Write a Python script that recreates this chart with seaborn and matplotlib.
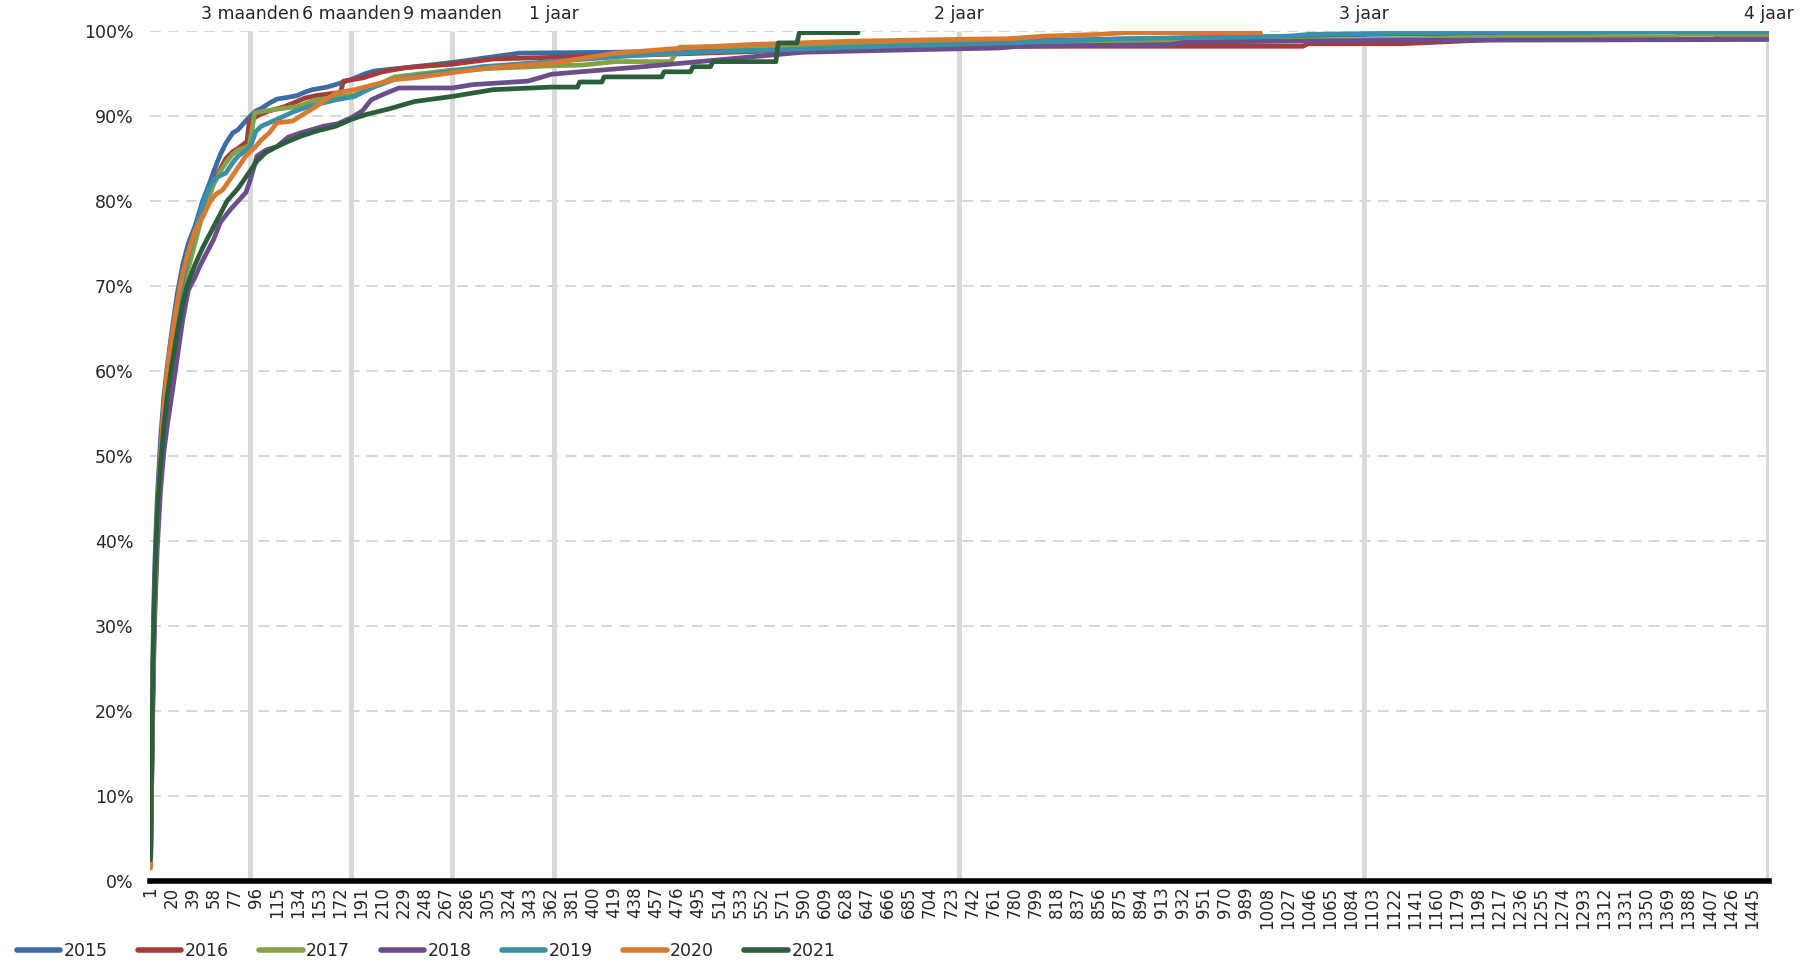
import pandas as pd
import matplotlib
matplotlib.use("Agg")
import matplotlib.pyplot as plt
import matplotlib.transforms as mtransforms
import seaborn as sns

# cumulative share per day (day number, percentage)
days_2015 = [1, 2, 3, 4, 5, 7, 10, 13, 16, 20, 25, 30, 35, 41, 48, 54, 58, 64, 69, 75, 80, 86, 91, 96, 101,
             108, 115, 125, 133, 140, 147, 160, 168, 182, 195, 203, 232, 260, 273, 290, 306, 334, 420, 520,
             600, 730, 800, 900, 1000, 1100, 1250, 1400, 1460]
pct_2015 = [3, 16, 26, 33, 38, 45, 52, 57, 60.5, 64.5, 69, 72.5, 75, 77, 80, 82, 83.5, 85.5, 86.8, 88, 88.4,
            89.3, 90, 90.6, 90.9, 91.5, 92, 92.2, 92.4, 92.8, 93.1, 93.4, 93.7, 94.3, 95, 95.3, 95.7, 96.1,
            96.3, 96.6, 96.9, 97.4, 97.5, 97.8, 98, 98.6, 98.9, 99.1, 99.3, 99.6, 99.8, 99.9, 99.9]

days_2016 = [1, 2, 3, 4, 5, 7, 10, 13, 16, 20, 25, 30, 35, 41, 48, 54, 58, 64, 69, 75, 80, 88, 90, 100, 108,
             122, 140, 150, 168, 172, 175, 193, 210, 232, 273, 310, 362, 451, 600, 700, 1040, 1045, 1130, 1214,
             1410, 1418, 1460]
pct_2016 = [2, 12, 21, 28, 33, 41, 48, 54, 58, 62, 66.5, 70, 73, 75.5, 79, 81, 82.3, 83.8, 85, 85.8, 86.2,
            87, 89.4, 90.2, 90.6, 91.1, 92.1, 92.4, 92.7, 92.7, 94.1, 94.5, 95.2, 95.7, 96.1, 96.7, 96.9,
            97.2, 97.8, 98.2, 98.2, 98.5, 98.5, 99.0, 99.0, 99.5, 99.5]

days_2017 = [1, 2, 3, 4, 5, 7, 10, 13, 16, 20, 25, 30, 35, 41, 48, 54, 58, 64, 69, 75, 80, 90, 95, 115, 133,
             150, 168, 185, 200, 221, 273, 327, 362, 391, 420, 470, 478, 600, 730, 880, 1000, 1100, 1226,
             1375, 1380, 1460]
pct_2017 = [2, 13, 23, 30, 35, 42, 49, 54.5, 58, 61.5, 65.5, 69, 72, 75, 78.5, 80.5, 82, 83.5, 84.5, 85.5,
            86, 86.5, 90.4, 90.8, 91.1, 91.9, 92.2, 92.5, 93.3, 94.6, 95.4, 95.7, 95.9, 96.0, 96.4, 96.4,
            98.1, 98.3, 98.6, 98.8, 98.9, 99.0, 99.3, 99.3, 99.6, 99.6]

days_2018 = [1, 2, 3, 4, 5, 7, 10, 13, 16, 20, 25, 30, 35, 41, 46, 52, 58, 64, 73, 80, 87, 91, 97, 105, 115,
             125, 136, 157, 170, 182, 192, 200, 210, 225, 273, 292, 341, 352, 362, 379, 445, 496, 538, 589,
             691, 766, 784, 920, 935, 1133, 1460]
pct_2018 = [2, 11, 20, 27, 32, 39, 46, 50.5, 53.5, 57, 61.5, 66, 69.5, 71, 72.5, 74, 75.5, 77.5, 79, 80,
            81, 82.5, 85.3, 86, 86.4, 87.5, 88, 88.8, 89.1, 89.8, 90.6, 91.9, 92.5, 93.3, 93.3, 93.7, 94.1,
            94.5, 94.9, 95.1, 95.8, 96.4, 96.9, 97.5, 97.8, 98.0, 98.2, 98.4, 98.7, 98.9, 99.0]

days_2019 = [1, 2, 3, 4, 5, 7, 10, 13, 16, 20, 25, 30, 35, 41, 48, 54, 58, 64, 69, 75, 80, 88, 91, 96, 101,
             115, 130, 143, 168, 185, 200, 221, 273, 300, 362, 436, 496, 571, 631, 721, 775, 880, 1030,
             1045, 1100, 1226, 1460]
pct_2019 = [2, 13, 23, 30, 35, 43, 50, 55, 58.5, 62.5, 67, 70.5, 73.5, 76.5, 79.5, 81.5, 82.5, 83, 83.3,
            84.5, 85.3, 86, 86.4, 88.2, 88.8, 89.6, 90.5, 91.1, 91.9, 92.3, 93.3, 94.3, 95.3, 95.8, 96.4,
            97.1, 97.5, 97.8, 98.1, 98.4, 98.6, 99.1, 99.4, 99.6, 99.7, 99.9, 99.9]

days_2020 = [1, 2, 3, 4, 5, 7, 10, 13, 16, 20, 25, 27, 30, 35, 41, 48, 55, 60, 66, 75, 87, 95, 101, 108, 115,
             129, 140, 150, 160, 168, 185, 200, 221, 240, 273, 310, 362, 391, 421, 481, 541, 631, 721, 775,
             808, 856, 880, 1002]
pct_2020 = [1.5, 12, 23, 30, 35, 43, 50, 56, 60, 64, 68, 69.5, 71.5, 74, 76.5, 78.1, 80, 80.8, 81.3, 83,
            85.3, 86.3, 87.2, 88, 89.2, 89.4, 90.3, 91.1, 92, 92.7, 93.1, 93.6, 94.3, 94.5, 95.1, 95.7, 96.2,
            96.8, 97.4, 98, 98.4, 98.8, 99.0, 99.1, 99.4, 99.6, 99.8, 99.8]

days_2021 = [1, 2, 3, 4, 5, 7, 10, 13, 16, 20, 25, 30, 34, 41, 48, 58, 64, 70, 80, 88, 97, 105, 115, 125, 136,
             150, 168, 182, 196, 215, 239, 273, 310, 362, 386, 388, 408, 410, 462, 464, 488, 490, 506, 508,
             565, 567, 584, 586, 639]
pct_2021 = [2.5, 14, 24, 31, 36, 43, 49, 53.5, 57, 60.5, 64.5, 68, 70, 72.5, 74.5, 77, 78.5, 80, 81.5, 83,
            84.7, 85.7, 86.4, 87, 87.6, 88.2, 88.8, 89.6, 90.2, 90.8, 91.7, 92.3, 93.1, 93.4, 93.4, 94.0,
            94.0, 94.6, 94.6, 95.2, 95.2, 95.8, 95.8, 96.4, 96.4, 98.6, 98.6, 99.8, 99.8]

years = ["2015", "2016", "2017", "2018", "2019", "2020", "2021"]
colors = ["#3C6BA5", "#A33C3A", "#86A045", "#6C4E8C", "#3A90A8", "#D87B30", "#2B5E3A"]

milestone_days = [91, 182, 273, 365, 730, 1095, 1460]
milestone_labels = ["3 maanden", "6 maanden", "9 maanden", "1 jaar", "2 jaar", "3 jaar", "4 jaar"]

x_ticks = list(range(1, 1446, 19))
y_ticks = [0, 10, 20, 30, 40, 50, 60, 70, 80, 90, 100]

series = {
    "2015": (days_2015, pct_2015), "2016": (days_2016, pct_2016), "2017": (days_2017, pct_2017),
    "2018": (days_2018, pct_2018), "2019": (days_2019, pct_2019), "2020": (days_2020, pct_2020),
    "2021": (days_2021, pct_2021),
}
frames = []
for y in years:
    d, p = series[y]
    frames.append(pd.DataFrame({"dag": d, "pct": p, "jaar": y}))
df = pd.concat(frames, ignore_index=True)

sns.set_style("white")
plt.rcParams["font.family"] = ["DejaVu Sans"]
text_color = "#262626"

fig = plt.figure(figsize=(18.05, 9.63), dpi=100)
ax = fig.add_axes([150 / 1805, 82 / 963, 1619 / 1805, 850 / 963])

# milestone markers and dashed horizontal grid behind the data
ax.vlines(milestone_days, 0, 100, color="#d9d9d9", lw=3.6, zorder=1)
for yv in y_ticks[1:]:
    ax.axhline(yv, color="#d4d4d4", lw=1.3, ls=(0, (6, 4)), zorder=0.5)

sns.lineplot(data=df, x="dag", y="pct", hue="jaar", hue_order=years,
             palette=dict(zip(years, colors)), estimator=None, sort=True,
             lw=3.4, ax=ax, zorder=3, legend=True)

trans = mtransforms.blended_transform_factory(ax.transData, ax.transAxes)
for d, lab in zip(milestone_days, milestone_labels):
    ax.text(d, 1.02, lab, transform=trans, ha="center", va="center",
            fontsize=12.5, color=text_color, clip_on=False)

ax.set_xlim(0.5, 1460.5)
ax.set_ylim(0, 100)
ax.set_xticks(x_ticks)
ax.set_xticklabels([str(t) for t in x_ticks], rotation=90, fontsize=12, color=text_color)
ax.set_yticks(y_ticks)
ax.set_yticklabels([f"{v}%" for v in y_ticks], fontsize=12.5, color=text_color)
ax.tick_params(axis="both", length=0)
ax.tick_params(axis="y", pad=12)
ax.tick_params(axis="x", pad=4)
ax.set_xlabel("")
ax.set_ylabel("")

for s in ["top", "right", "left"]:
    ax.spines[s].set_visible(False)
ax.spines["bottom"].set_color("black")
ax.spines["bottom"].set_linewidth(4)
ax.spines["bottom"].set_zorder(4)

handles, labels = ax.get_legend_handles_labels()
for h in handles:
    h.set_linewidth(4)
ax.legend(handles, labels, loc="center left", bbox_to_anchor=(8 / 1805, 1 - 951 / 963),
          bbox_transform=fig.transFigure, ncol=7, frameon=False, fontsize=12.5,
          handlelength=2.5, handletextpad=0.2, columnspacing=1.75, borderpad=0,
          labelcolor=text_color)

fig.savefig("out.png", dpi=100)
